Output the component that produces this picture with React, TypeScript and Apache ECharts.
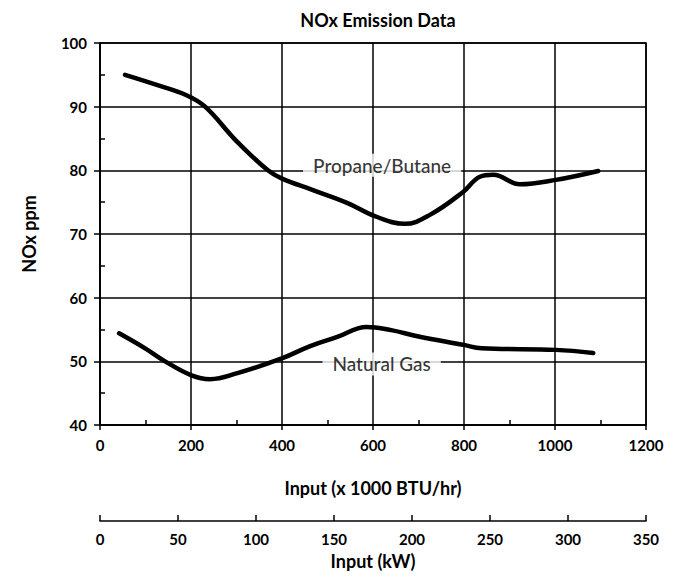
import React, { useEffect, useRef } from "react";
import * as echarts from "echarts";

const titleText = "NOx Emission Data";
const yAxisName = "NOx ppm";
const btuAxisName = "Input (x 1000 BTU/hr)";
const kwAxisName = "Input (kW)";

const propaneInput = [55, 130, 190, 231, 300, 369, 400, 468, 543, 604, 670, 725, 798, 835, 864, 923, 1002, 1095];
const propanePpm = [95.0, 93.3, 91.8, 90.0, 84.6, 80.0, 78.7, 76.9, 74.9, 72.8, 71.6, 73.0, 76.6, 79.0, 79.3, 77.8, 78.5, 79.9];

const gasInput = [42, 100, 143, 201, 242, 300, 401, 462, 520, 586, 640, 700, 798, 839, 1002, 1084];
const gasPpm = [54.4, 52.0, 50.0, 47.8, 47.2, 48.1, 50.5, 52.4, 53.8, 55.4, 54.9, 53.9, 52.6, 52.05, 51.8, 51.3];

const labelNames = ["Propane/Butane", "Natural Gas"];
const labelInput = [620, 619];
const labelPpm = [80.8, 49.6];

const FONT = "Lato, 'Open Sans', sans-serif";
const BLACK = "#000";

export default function App() {
  const ref = useRef<HTMLDivElement>(null);
  useEffect(() => {
    if (!ref.current) return;
    const chart = echarts.init(ref.current, null, { renderer: "svg" });
    const lineW = 1.5;
    const propane = propaneInput.map((x, i) => [x, propanePpm[i]]);
    const gas = gasInput.map((x, i) => [x, gasPpm[i]]);
    const labels = labelNames.map((n, i) => ({ name: n, value: [labelInput[i], labelPpm[i]] }));
    const tickLabel = { fontFamily: FONT, fontSize: 15, fontWeight: "bold", color: BLACK, formatter: (v: number) => String(v) };
    chart.setOption({
      animation: false,
      backgroundColor: "#fff",
      title: {
        text: titleText,
        left: 373,
        textAlign: "center",
        top: 6,
        textStyle: { fontFamily: FONT, fontWeight: "bold", fontSize: 18, color: BLACK },
      },
      grid: { left: 100, right: 30, top: 43, bottom: 159, show: true, borderColor: BLACK, borderWidth: lineW, backgroundColor: "transparent" },
      xAxis: [
        {
          type: "value",
          min: 0,
          max: 1200,
          interval: 200,
          position: "bottom",
          name: btuAxisName,
          nameLocation: "middle",
          nameGap: 54,
          nameTextStyle: { fontFamily: FONT, fontWeight: "bold", fontSize: 18, color: BLACK },
          axisLine: { show: true, onZero: false, lineStyle: { color: BLACK, width: lineW } },
          axisTick: { show: true, inside: false, length: 5, lineStyle: { color: BLACK, width: lineW } },
          minorTick: { show: true, splitNumber: 2, length: -5, lineStyle: { color: BLACK, width: lineW } },
          axisLabel: { margin: 12, ...tickLabel },
          splitLine: { show: true, lineStyle: { color: BLACK, width: lineW } },
        },
        {
          type: "value",
          min: 0,
          max: 350,
          interval: 50,
          position: "bottom",
          offset: 96,
          name: kwAxisName,
          nameLocation: "middle",
          nameGap: 31,
          nameTextStyle: { fontFamily: FONT, fontWeight: "bold", fontSize: 18, color: BLACK },
          axisLine: { show: true, onZero: false, lineStyle: { color: BLACK, width: lineW } },
          axisTick: { show: true, inside: true, length: 6, lineStyle: { color: BLACK, width: lineW } },
          axisLabel: { margin: 10, ...tickLabel },
          splitLine: { show: false },
        },
      ],
      yAxis: {
        type: "value",
        min: 40,
        max: 100,
        interval: 10,
        name: yAxisName,
        nameLocation: "middle",
        nameGap: 62,
        nameRotate: 90,
        nameTextStyle: { fontFamily: FONT, fontWeight: "bold", fontSize: 18, color: BLACK },
        axisLine: { show: true, onZero: false, lineStyle: { color: BLACK, width: lineW } },
        axisTick: { show: true, inside: false, length: 6, lineStyle: { color: BLACK, width: lineW } },
        minorTick: { show: true, splitNumber: 2, length: -5, lineStyle: { color: BLACK, width: lineW } },
        axisLabel: { margin: 13, ...tickLabel },
        splitLine: { show: true, lineStyle: { color: BLACK, width: lineW } },
      },
      series: [
        {
          name: "Propane/Butane",
          type: "line",
          xAxisIndex: 0,
          data: propane,
          smooth: 0.4,
          symbol: "none",
          lineStyle: { color: BLACK, width: 4.5, cap: "round" },
          z: 5,
        },
        {
          name: "Natural Gas",
          type: "line",
          xAxisIndex: 0,
          data: gas,
          smooth: 0.4,
          symbol: "none",
          lineStyle: { color: BLACK, width: 4.5, cap: "round" },
          z: 5,
        },
        {
          name: "labels",
          type: "scatter",
          xAxisIndex: 0,
          data: labels,
          symbolSize: 1,
          itemStyle: { color: "transparent" },
          z: 4,
          label: {
            show: true,
            position: "inside",
            formatter: (p: any) => p.name,
            fontFamily: FONT,
            fontSize: 19,
            fontWeight: 500,
            color: BLACK,
            backgroundColor: "#fff",
            padding: [2, 10],
          },
        },
      ],
    });
    return () => chart.dispose();
  }, []);
  return <div ref={ref} style={{ position: "fixed", left: 0, top: 0, width: 676, height: 584 }} />;
}
